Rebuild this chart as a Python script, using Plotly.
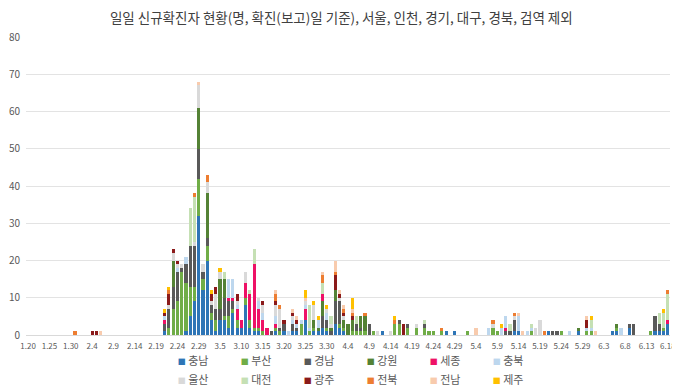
import pandas as pd
import plotly.graph_objects as go

# ---- categories: daily labels 1.20 .. 6.18 ----
dates = pd.date_range("2020-01-20", "2020-06-18", freq="D")
categories = [f"{d.month}.{d.day}" for d in dates]
tick_labels = categories[::5]

regions = ["충남", "부산", "경남", "강원", "세종", "충북", "울산", "대전", "광주", "전북", "전남", "제주"]
colors = ["#2E75B6", "#70AD47", "#595959", "#548235", "#EE1166", "#BDD7EE",
          "#D9D9D9", "#C5E0B4", "#8B1A1A", "#ED7D31", "#F8CBAD", "#FFC000"]

# ---- daily counts per region (date label -> count; unlisted days are 0) ----
chungnam = {"2.21": 1, "2.26": 1, "2.27": 5, "2.28": 9, "2.29": 32, "3.1": 12, "3.2": 20, "3.3": 4,
            "3.4": 1, "3.5": 4, "3.6": 4, "3.7": 2, "3.8": 6, "3.9": 2, "3.10": 2, "3.11": 8,
            "3.12": 2, "3.13": 1, "3.14": 1, "3.18": 1, "3.20": 1, "3.22": 1, "3.23": 1, "3.25": 4,
            "3.27": 1, "3.28": 1, "3.29": 2, "3.30": 1, "4.1": 3, "4.2": 2, "4.3": 1, "4.12": 1,
            "4.27": 1, "4.29": 1, "5.13": 1, "5.14": 1, "5.21": 1, "5.28": 1, "6.5": 1, "6.6": 1,
            "6.9": 2, "6.15": 1, "6.16": 1, "6.17": 1, "6.18": 3}
busan = {"2.22": 2, "2.23": 7, "2.24": 9, "2.25": 17, "2.26": 13, "2.27": 8, "2.28": 4, "2.29": 10,
         "3.1": 3, "3.2": 4, "3.3": 2, "3.4": 3, "3.6": 1, "3.7": 3, "3.8": 1, "3.9": 2, "3.11": 2,
         "3.12": 2, "3.13": 1, "3.14": 1, "3.15": 1, "3.18": 1, "3.19": 1, "3.24": 3, "3.26": 1,
         "3.27": 1, "3.30": 1, "4.2": 1, "4.3": 1, "4.5": 1, "4.6": 1, "4.7": 1, "4.8": 1, "4.10": 1,
         "4.15": 3, "4.16": 3, "4.18": 2, "4.20": 2, "4.22": 2, "4.23": 1, "4.24": 1, "4.26": 1,
         "5.2": 1, "5.8": 2, "5.9": 1, "5.17": 1, "5.24": 1, "5.30": 1, "5.31": 1, "6.6": 1,
         "6.14": 1, "6.17": 1}
gyeongnam = {"2.21": 2, "2.22": 5, "2.23": 6, "2.24": 8, "2.25": 1, "2.26": 5, "2.27": 11, "2.28": 11,
             "2.29": 8, "3.1": 2, "3.2": 2, "3.3": 2, "3.4": 3, "3.5": 3, "3.6": 5, "3.7": 4, "3.8": 2,
             "3.17": 1, "3.19": 1, "3.20": 2, "3.22": 2, "3.23": 1, "3.29": 3, "3.30": 2, "3.31": 1,
             "4.1": 6, "4.2": 6, "4.6": 2, "4.7": 1, "4.9": 3, "4.16": 1, "4.18": 1, "4.22": 1,
             "5.11": 1, "5.12": 1, "5.13": 3, "5.22": 1, "5.23": 1, "6.9": 1, "6.10": 3, "6.15": 4,
             "6.16": 2}
gangwon = {"2.23": 7, "2.29": 11, "3.2": 12, "3.5": 8, "3.6": 5, "3.27": 2, "3.28": 1, "3.29": 4,
           "3.31": 1, "4.1": 3, "4.3": 2, "4.4": 3, "4.5": 3, "4.7": 3, "4.8": 4, "5.28": 1, "6.6": 1}
sejong = {"2.21": 1, "3.7": 1, "3.8": 1, "3.9": 3, "3.10": 2, "3.11": 4, "3.12": 7, "3.13": 17,
          "3.14": 5, "3.15": 3, "3.16": 2, "3.18": 1, "3.25": 3, "3.29": 2, "5.11": 1, "6.18": 1}
chungbuk = {"2.21": 1, "2.24": 1, "2.26": 2, "3.7": 5, "3.8": 5, "3.9": 1, "3.14": 2, "3.15": 2,
            "3.18": 2, "3.21": 1, "3.22": 1, "3.23": 1, "3.24": 1, "3.25": 1, "3.26": 1, "3.28": 2,
            "3.30": 2, "5.7": 2, "5.10": 2, "5.11": 3, "5.14": 4, "5.16": 1, "5.17": 1, "5.26": 1,
            "5.30": 1, "5.31": 1, "6.7": 2}
ulsan = {"2.22": 1, "2.23": 2, "2.24": 1, "2.25": 1, "2.28": 1, "2.29": 6, "3.1": 2, "3.2": 3,
         "3.3": 1, "3.4": 4, "3.5": 2, "3.9": 1, "3.11": 3, "3.14": 1, "3.15": 2, "3.18": 3,
         "3.19": 5, "3.22": 1, "3.25": 1, "3.27": 4, "3.30": 1, "3.31": 1, "4.2": 1, "4.3": 1,
         "4.11": 1, "4.14": 1, "4.20": 1, "5.8": 1, "5.13": 1, "5.18": 2, "5.19": 4}
daejeon = {"2.27": 10, "2.28": 12, "3.6": 2, "3.12": 1, "3.13": 4, "3.26": 6, "3.29": 3, "3.31": 2,
           "4.6": 2, "4.22": 1, "5.12": 2, "5.17": 1, "5.31": 2, "6.16": 3, "6.17": 4, "6.18": 7}
gwangju = {"2.4": 1, "2.5": 1, "2.21": 1, "2.22": 3, "2.23": 1, "2.24": 1, "3.3": 2, "3.4": 2,
           "3.9": 2, "3.15": 1, "3.18": 1, "3.20": 1, "3.22": 1, "3.23": 1, "4.1": 4, "4.2": 1,
           "4.3": 1, "4.5": 1, "4.17": 3, "5.30": 2}
jeonbuk = {"1.31": 1, "2.22": 1, "2.28": 1, "3.2": 2, "3.18": 2, "3.19": 1, "3.29": 2, "4.1": 1,
           "4.3": 1, "4.5": 1, "4.8": 1, "4.15": 1, "4.26": 1, "5.8": 1, "5.13": 1, "5.20": 1,
           "6.18": 1}
jeonnam = {"2.6": 1, "2.29": 1, "3.18": 1, "3.22": 1, "3.23": 1, "3.25": 1, "3.29": 1, "4.1": 3,
           "4.2": 1, "4.3": 1, "4.5": 1, "5.4": 2, "5.14": 1, "5.15": 1, "5.30": 1, "6.1": 1}
jeju = {"2.21": 1, "2.22": 1, "3.3": 1, "3.5": 1, "3.25": 2, "3.27": 1, "3.28": 1, "3.30": 1,
        "4.5": 3, "4.15": 1, "5.10": 1, "5.31": 1, "6.17": 1}

series = [chungnam, busan, gyeongnam, gangwon, sejong, chungbuk,
          ulsan, daejeon, gwangju, jeonbuk, jeonnam, jeju]

FONT = "Noto Sans CJK KR, Noto Sans, sans-serif"
TXT = "#595959"

fig = go.Figure()
for name, col, data in zip(regions, colors, series):
    fig.add_trace(go.Bar(
        x=categories, y=[data.get(c, 0) for c in categories],
        name=name, marker=dict(color=col, line=dict(width=0)),
        showlegend=False,
    ))

# legend entries (two rows of six) + an empty spacer entry per row so no text is clipped
for i, (name, col) in enumerate(zip(regions, colors)):
    fig.add_trace(go.Scatter(
        x=[None], y=[None], mode="markers",
        marker=dict(color="rgba(0,0,0,0)", size=1),
        name=f'<span style="color:{col};font-size:8px">■</span> {name}',
        legend="legend" if i < 6 else "legend2",
    ))
    if i in (5, 11):
        fig.add_trace(go.Scatter(
            x=[None], y=[None], mode="markers",
            marker=dict(color="rgba(0,0,0,0)", size=1),
            name="\u00a0", legend="legend" if i < 6 else "legend2",
        ))

leg_common = dict(orientation="h", xanchor="left", yanchor="top",
                  xref="container", yref="container", traceorder="normal",
                  entrywidth=18, entrywidthmode="pixels",
                  font=dict(family=FONT, size=11, color=TXT),
                  bgcolor="rgba(0,0,0,0)", itemclick=False, itemdoubleclick=False)

# the page shows the figure offset by the body margin, so the figure is sized to fit
fig.update_layout(
    width=672, height=381,
    barmode="stack", bargap=0.26,
    margin=dict(l=18, r=10, t=29, b=54, autoexpand=False),
    paper_bgcolor="white", plot_bgcolor="white",
    font=dict(family=FONT, color=TXT),
    title=dict(text="일일 신규확진자 현황(명, 확진(보고)일 기준), 서울, 인천, 경기, 대구, 경북, 검역 제외",
               x=0.496, xanchor="center", y=0.972, yanchor="middle", yref="container",
               font=dict(family=FONT, size=13.5, color="#404040")),
    xaxis=dict(type="category", categoryorder="array", categoryarray=categories,
               tickmode="array", tickvals=tick_labels, ticktext=tick_labels,
               tickangle=0, tickfont=dict(size=8, color=TXT), showgrid=False,
               showline=True, linecolor="#D9D9D9", linewidth=1, ticks="",
               ticklabelstandoff=3, fixedrange=True),
    yaxis=dict(range=[0, 80], dtick=10, tickfont=dict(size=10, color=TXT),
               showgrid=True, gridcolor="#E3E3E3", gridwidth=1, zeroline=False,
               showline=False, ticks="", ticklabelstandoff=5, fixedrange=True),
    legend=dict(x=0.193, y=0.113, **leg_common),
    legend2=dict(x=0.193, y=0.063, **leg_common),
)

fig.write_html("out.html")
